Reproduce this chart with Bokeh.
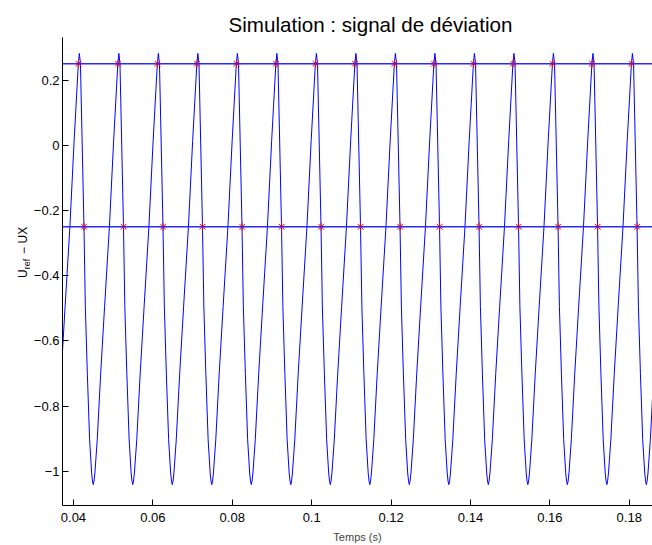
from bokeh.plotting import figure
from bokeh.layouts import row, column
from bokeh.models import Range1d, FixedTicker, Span
from bokeh.core.properties import value
from bokeh.embed import file_html
from bokeh.resources import INLINE

# ---------------- data ----------------
# times of the signal maxima (s)
peak_times = [0.031530, 0.041481, 0.051432, 0.061383, 0.071334, 0.081285,
              0.091236, 0.101187, 0.111138, 0.121089, 0.131040, 0.140991,
              0.150942, 0.160893, 0.170844, 0.180795, 0.190746]
# falling side of one period: offset after the peak (s) and value
fall_dt = [0.0, 0.00028, 0.00117, 0.00151, 0.00201, 0.00259, 0.00310, 0.00331, 0.00351]
fall_val = [0.2816, 0.251, -0.2507, -0.4954, -0.6993, -0.9033, -1.0053, -1.030, -1.041]
# rising side of one period: offset before the next peak (s) and value
rise_dt = [-0.00625, -0.00603, -0.00544, -0.00457, -0.00359, -0.00238, -0.00131, -0.00025]
rise_val = [-1.030, -1.0053, -0.9033, -0.6993, -0.4954, -0.2507, 0.0143, 0.251]

# detection thresholds
thresholds = [0.25, -0.25]
# detected crossings (red stars)
up_cross_t = [0.041260, 0.051211, 0.061162, 0.071113, 0.081064, 0.091015,
              0.100966, 0.110917, 0.120868, 0.130819, 0.140770, 0.150721,
              0.160672, 0.170623, 0.180574]
down_cross_t = [0.042678, 0.052629, 0.062580, 0.072531, 0.082482, 0.092433,
                0.102384, 0.112335, 0.122286, 0.132237, 0.142188, 0.152139,
                0.162090, 0.172041, 0.181992]

x_ticks = [0.04, 0.06, 0.08, 0.10, 0.12, 0.14, 0.16, 0.18]
x_tick_labels = ["0.04", "0.06", "0.08", "0.1", "0.12", "0.14", "0.16", "0.18"]
y_ticks = [-1, -0.8, -0.6, -0.4, -0.2, 0, 0.2]
y_tick_labels = ["\u22121", "\u22120.8", "\u22120.6", "\u22120.4", "\u22120.2", "0", "0.2"]
x_limits = (0.03724, 0.18585)
y_limits = (-1.105, 0.3304)

title_text = "Simulation : signal de d\u00e9viation"
x_label = "Temps (s)"
y_label_parts = ["U", "ref", "\u2212", "UX"]

# ---------------- build the signal from the read values ----------------
sig_t, sig_v = [], []
for pk in peak_times:
    for dt, val in zip(rise_dt, rise_val):
        sig_t.append(pk + dt)
        sig_v.append(val)
    for dt, val in zip(fall_dt, fall_val):
        sig_t.append(pk + dt)
        sig_v.append(val)

FONT = "Liberation Sans"
W, H = 652, 545
TH = 37   # height of the title strip
LW = 30   # width of the strip that carries the vertical y label
PH = H - TH


def blank(width, height):
    f = figure(width=width, height=height, output_backend="svg", toolbar_location=None,
               x_range=Range1d(0, width), y_range=Range1d(0, height),
               x_axis_location=None, y_axis_location=None,
               min_border_left=0, min_border_right=0, min_border_top=0, min_border_bottom=0)
    f.outline_line_color = None
    f.grid.visible = False
    f.background_fill_color = "white"
    f.border_fill_color = "white"
    return f


# ---------------- title strip (positions in strip pixels, y from bottom) ----------------
top = blank(W, TH)
top.text(x=[228], y=[TH - 23.5], text=[title_text], text_font=value(FONT),
         text_font_size="20.6px", text_color="black",
         text_baseline="alphabetic", text_align="left")

# ---------------- strip with the y-axis label ----------------
lab = blank(LW, PH)
ang = 1.5707963267948966
lab.text(x=[22.5], y=[H - 298], text=[y_label_parts[0]], angle=ang,
         text_font=value(FONT), text_font_size="12px", text_color="black",
         text_baseline="alphabetic", text_align="left")
lab.text(x=[26.0], y=[H - 288.5], text=[y_label_parts[1]], angle=ang,
         text_font=value(FONT), text_font_size="9px", text_color="black",
         text_baseline="alphabetic", text_align="left")
lab.text(x=[22.5], y=[H - 272], text=[y_label_parts[2]], angle=ang,
         text_font=value(FONT), text_font_size="12px", text_color="black",
         text_baseline="alphabetic", text_align="left")
lab.text(x=[22.5], y=[H - 260.5], text=[y_label_parts[3]], angle=ang,
         text_font=value(FONT), text_font_size="12px", text_color="black",
         text_baseline="alphabetic", text_align="left")

# ---------------- main plot ----------------
p = figure(width=W - LW, height=PH, output_backend="svg", toolbar_location=None,
           x_range=Range1d(*x_limits), y_range=Range1d(*y_limits),
           min_border_left=60 - LW, min_border_right=0, min_border_top=0,
           min_border_bottom=39)
p.outline_line_color = None
p.grid.visible = False
p.background_fill_color = "white"
p.border_fill_color = "white"

for ax in (p.xaxis[0], p.yaxis[0]):
    ax.axis_line_color = "black"
    ax.axis_line_width = 1
    ax.major_tick_line_color = "black"
    ax.major_tick_in = 6
    ax.major_tick_out = 0
    ax.minor_tick_line_color = None
    ax.major_label_text_font = FONT
    ax.major_label_text_font_size = "13px"
    ax.major_label_text_color = "black"

p.xaxis.ticker = FixedTicker(ticks=x_ticks)
p.xaxis.major_label_overrides = dict(zip(x_ticks, x_tick_labels))
p.xaxis.major_label_standoff = 7
p.xaxis.axis_label = x_label
p.xaxis.axis_label_text_font = FONT
p.xaxis.axis_label_text_font_size = "11px"
p.xaxis.axis_label_text_font_style = "normal"
p.xaxis.axis_label_standoff = 6

p.yaxis.ticker = FixedTicker(ticks=y_ticks)
p.yaxis.major_label_overrides = dict(zip(y_ticks, y_tick_labels))
p.yaxis.major_label_standoff = 3

# signal
p.line(sig_t, sig_v, line_color="#0000ff", line_width=1)

# thresholds
for th in thresholds:
    p.add_layout(Span(location=th, dimension="width", line_color="#2a2aff", line_width=1.4))

# detected crossings
p.scatter(up_cross_t, [thresholds[0]] * len(up_cross_t), marker="asterisk", size=8,
          line_color="#ff0000", line_width=1)
p.scatter(down_cross_t, [thresholds[1]] * len(down_cross_t), marker="asterisk", size=8,
          line_color="#ff0000", line_width=1)

layout = column(top, row(lab, p, spacing=0), spacing=0)
open("out.html", "w").write(file_html(layout, INLINE))
